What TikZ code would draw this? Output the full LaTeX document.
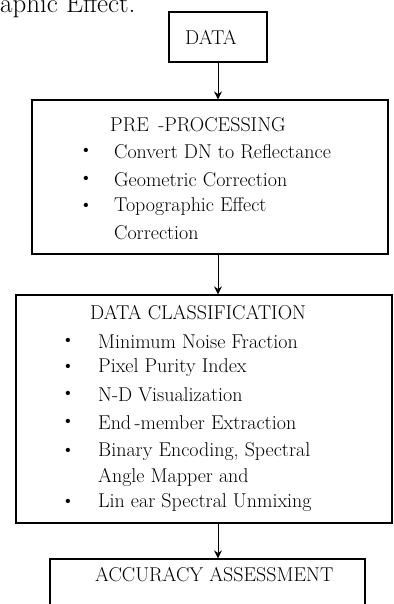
\documentclass[tikz,border=0pt]{standalone}
\usetikzlibrary{arrows.meta}
\begin{document}
\begin{tikzpicture}[ x=1pt, y=-1pt, >={Stealth[length=8pt,width=8pt]},
      box/.style={draw,line width=1.2pt,inner sep=0},
      lbl/.style={anchor=west,inner sep=0,font=\fontsize{20}{22}\selectfont},
      blt/.style={inner sep=0,font=\fontsize{19}{21}\selectfont},
      link/.style={->,line width=0.9pt} ]
      \clip (0,0) rectangle (393,604);

      % text above
      \node[anchor=base west,inner sep=0,font=\fontsize{27}{29}\selectfont] (head) at (0,13) {aphic Effect.};

      % boxes
      \node[box,minimum width=98pt,minimum height=50pt] (data) at (218,37) {};
      \node[box,minimum width=356pt,minimum height=154pt] (pre) at (210,177) {};
      \node[box,minimum width=376pt,minimum height=228pt] (cls) at (204,409) {};
      \node[box,minimum width=315pt,minimum height=80pt] (acc) at (207.5,599) {};

      % arrows
      \draw [link] (data.south) to (data.south |- pre.north);
      \draw [link] (data.south |- pre.south) to (data.south |- cls.north);
      \draw [link] (data.south |- cls.south) to (data.south |- acc.north);

      % labels
      \node[inner sep=0,font=\fontsize{20}{22}\selectfont] (tdata) at (211,37) {DATA};

      \node[lbl] (tpre) at (110,125) {PRE \,-PROCESSING};
      \node[blt] (b1) at (86,152) {\textbullet};
      \node[blt] (b2) at (86,180) {\textbullet};
      \node[blt] (b3) at (86,207) {\textbullet};
      \node[lbl] (p1) at (114,152) {Convert DN to Reflectance};
      \node[lbl] (p2) at (114,180) {Geometric Correction};
      \node[lbl] (p3) at (114,207) {Topographic Effect};
      \node[lbl] (p4) at (114,233) {Correction};

      \node[lbl] (tcls) at (90,313) {DATA CLASSIFICATION};
      \node[blt] (c1b) at (68,342) {\textbullet};
      \node[blt] (c2b) at (68,368) {\textbullet};
      \node[blt] (c3b) at (68,395) {\textbullet};
      \node[blt] (c4b) at (68,423) {\textbullet};
      \node[blt] (c5b) at (68,452) {\textbullet};
      \node[blt] (c7b) at (68,503) {\textbullet};
      \node[lbl] (c1) at (98,342) {Minimum Noise Fraction};
      \node[lbl] (c2) at (98,368) {Pixel Purity Index};
      \node[lbl] (c3) at (98,395) {N-D Visualization};
      \node[lbl] (c4) at (98,423) {End\,-member Extraction};
      \node[lbl] (c5) at (98,452) {Binary Encoding, Spectral};
      \node[lbl] (c6) at (98,477) {Angle Mapper and};
      \node[lbl] (c7) at (98,503) {Lin ear Spectral Unmixing};

      \node[lbl] (tacc) at (95,575) {ACCURACY ASSESSMENT};
    \end{tikzpicture}
\end{document}
